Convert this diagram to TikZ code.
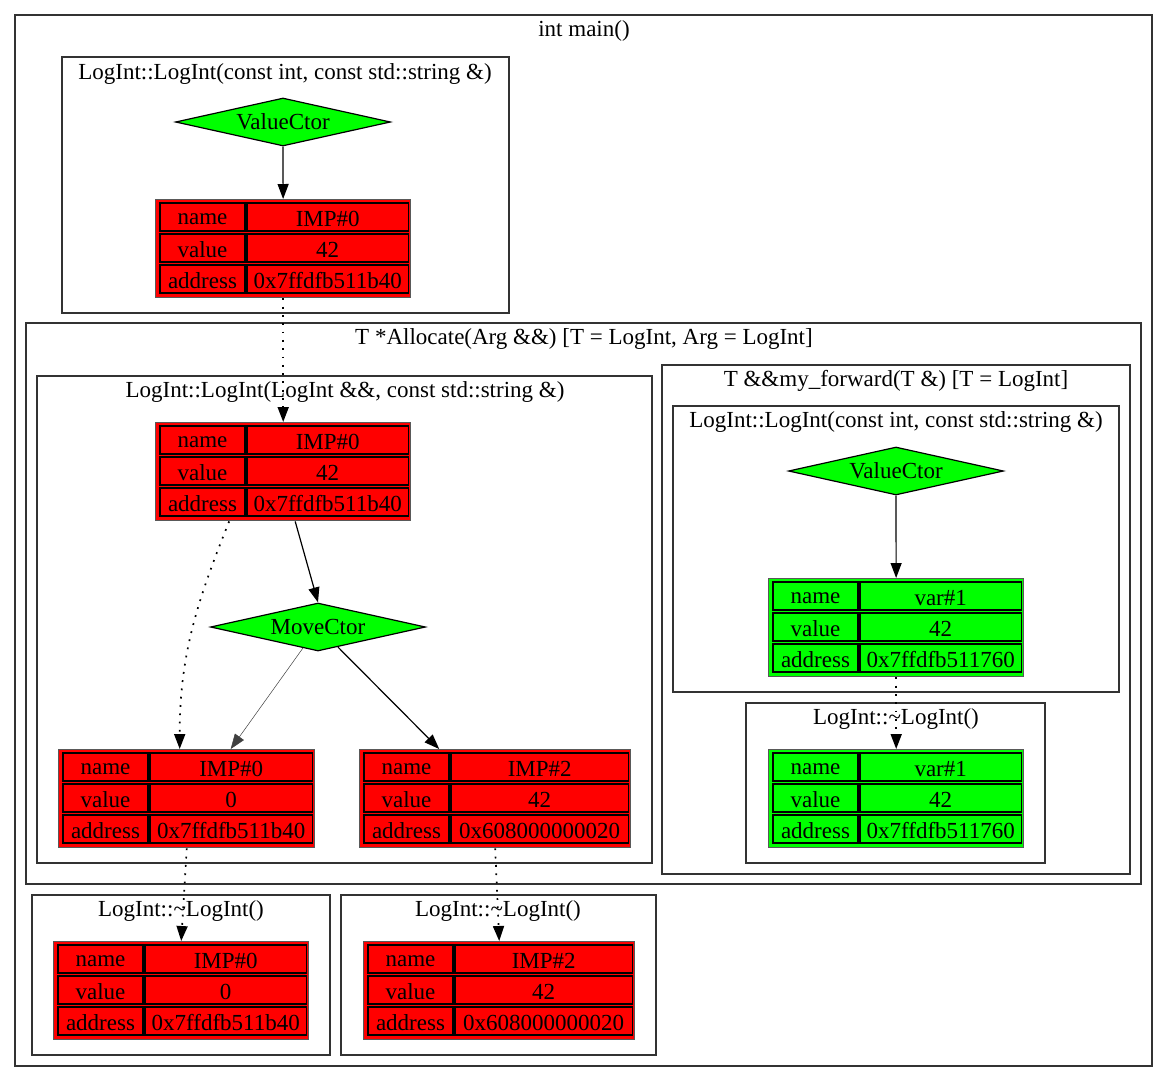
\documentclass[tikz,border=0pt]{standalone}
\usepackage{fontspec}
\setmainfont{Liberation Serif}
\usetikzlibrary{arrows.meta,shapes.geometric,calc}
\definecolor{memred}{RGB}{255,0,0}
\definecolor{memgreen}{RGB}{0,255,0}

% one row of a memory table: table, row, key, value
\newcommand{\memrow}[4]{%
  \draw[memcell] ($(#1.north west)+(5,{4+31*#2})$) rectangle ++(85,28) node[midway, celltxt] {#3};
  \draw[memcell] ($(#1.north west)+(92,{4+31*#2})$) rectangle ($(#1.north east)+(-3,{32+31*#2})$) node[midway, celltxt] {#4};
}
% memory table: node name, nw corner, width, colour, name, value, address
\newcommand{\memtab}[7]{%
  \node[memout, fill=#4, minimum width=#3pt, anchor=north west] (#1) at #2 {};
  \memrow{#1}{0}{name}{#5}
  \memrow{#1}{1}{value}{#6}
  \memrow{#1}{2}{address}{#7}
}

\begin{document}
\begin{tikzpicture}[
x=1pt, y=-1pt,
font=\fontsize{23}{27}\selectfont,
cluster/.style={draw=black!80, line width=1.2pt},
clab/.style={inner sep=0pt, yshift=-2pt},
celltxt/.style={yshift=-2pt},
memout/.style={draw=black!65, line width=1.4pt, minimum height=98pt, inner sep=0pt},
memcell/.style={draw=black, line width=1.2pt},
ctor/.style={diamond, draw, fill=memgreen, line width=1.2pt, aspect=4.5, inner sep=0pt, minimum width=215pt, minimum height=48pt},
arr/.style={-{Triangle[length=15pt,width=11pt]}, line width=1.2pt},
dotarr/.style={arr, line width=1.7pt, dash pattern=on 1.8pt off 6.5pt}
]
\useasboundingbox (0,0) rectangle (1168,1082);
\fill[white] (0,0) rectangle (1168,1082);

% clusters
\draw[cluster] (15,15) rectangle (1152,1066);
\node[clab] (labmain) at (584,29) {int main()};
\draw[cluster] (62,57) rectangle (509,313);
\node[clab] (labctorA) at (285,72) {LogInt::LogInt(const int, const std::string \&)};
\draw[cluster] (26,323) rectangle (1141,884);
\node[clab] (laballoc) at (584,337) {T *Allocate(Arg \&\&) [T = LogInt, Arg = LogInt]};
\draw[cluster] (37,376) rectangle (652,863);
\node[clab] (labmove) at (345,390) {LogInt::LogInt(LogInt \&\&, const std::string \&)};
\draw[cluster] (662,365) rectangle (1130,874);
\node[clab] (labfwd) at (896,379) {T \&\&my\_forward(T \&) [T = LogInt]};
\draw[cluster] (673,406) rectangle (1119,692);
\node[clab] (labctorB) at (896,420) {LogInt::LogInt(const int, const std::string \&)};
\draw[cluster] (746,703) rectangle (1045,863);
\node[clab] (labdtorE) at (896,717) {LogInt::\textasciitilde LogInt()};
\draw[cluster] (32,895) rectangle (330,1055);
\node[clab] (labdtorC) at (181,909) {LogInt::\textasciitilde LogInt()};
\draw[cluster] (341,895) rectangle (656,1055);
\node[clab] (labdtorD) at (498,909) {LogInt::\textasciitilde LogInt()};

% operations
\node[ctor] (valueA) at (283,122) {ValueCtor};
\node[ctor] (move) at (318,627) {MoveCtor};
\node[ctor] (valueB) at (896,471) {ValueCtor};

% objects
\memtab{tabA}{(155,199)}{255}{memred}{IMP\#0}{42}{0x7ffdfb511b40}
\memtab{tabB}{(155,422)}{255}{memred}{IMP\#0}{42}{0x7ffdfb511b40}
\memtab{tabC}{(58,749)}{256}{memred}{IMP\#0}{0}{0x7ffdfb511b40}
\memtab{tabD}{(359,749)}{271}{memred}{IMP\#2}{42}{0x608000000020}
\memtab{tabE}{(768,578)}{255}{memgreen}{var\#1}{42}{0x7ffdfb511760}
\memtab{tabF}{(768,749)}{255}{memgreen}{var\#1}{42}{0x7ffdfb511760}
\memtab{tabG}{(53,941)}{255}{memred}{IMP\#0}{0}{0x7ffdfb511b40}
\memtab{tabH}{(363,941)}{271}{memred}{IMP\#2}{42}{0x608000000020}

% edges
\draw[arr] (valueA) -- (tabA);
\draw[dotarr] (tabA.south) -- (tabB.north);
\draw[arr] ([xshift=12pt]tabB.south) -- (move.north);
\draw[dotarr] ([xshift=-54pt]tabB.south) to[out=-112,in=90] ([xshift=-7pt]tabC.north);
\draw[arr, line width=0.5pt, draw=black!75] (move) -- ([xshift=44pt]tabC.north);
\draw[arr] (move) -- ([xshift=-56pt]tabD.north);
\draw[dotarr] (tabC.south) -- (tabG.north);
\draw[dotarr] (tabD.south) -- (tabH.north);
\draw[arr] (valueB) -- (tabE);
\draw[dotarr] (tabE.south) -- (tabF.north);
\end{tikzpicture}
\end{document}
